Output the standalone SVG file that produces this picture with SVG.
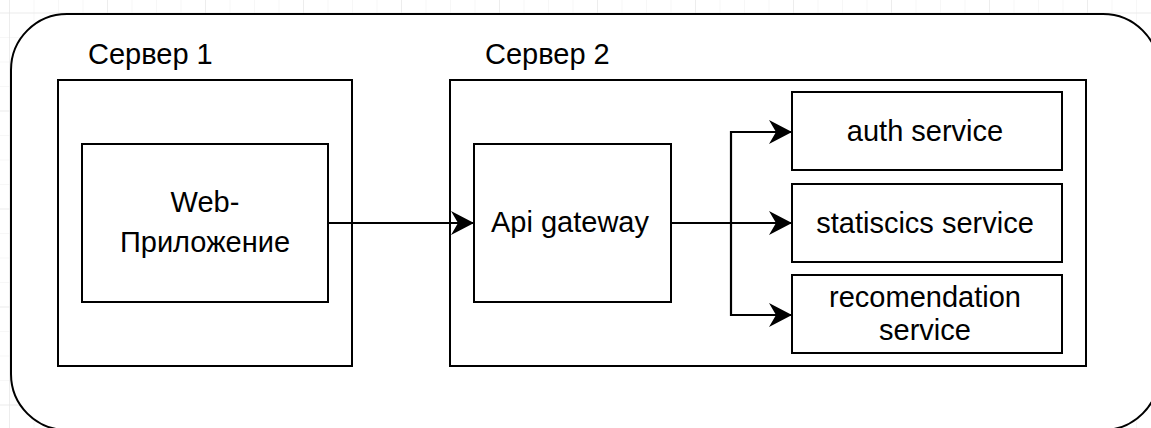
<svg xmlns="http://www.w3.org/2000/svg" width="1151" height="428" viewBox="0 0 1151 428">
  <defs>
    <!-- light drawing-board grid: minor cells plus heavier every 4th line -->
    <pattern id="gridMinor" x="9" y="12.5" width="24.5" height="24.5" patternUnits="userSpaceOnUse">
      <path d="M0,0 H24.5 M0,0 V24.5" fill="none" stroke="#f0f0f0" stroke-width="1"/>
    </pattern>
    <pattern id="gridMajor" x="9" y="12.5" width="98" height="98" patternUnits="userSpaceOnUse">
      <path d="M0,0 H98 M0,0 V98" fill="none" stroke="#e4e4e4" stroke-width="1"/>
    </pattern>
    <marker id="arrow" markerUnits="userSpaceOnUse" markerWidth="26" markerHeight="26" refX="23" refY="12" orient="auto" viewBox="0 0 26 26">
      <path d="M23,12 L0,0 L7,12 L0,24 Z" fill="#000"/>
    </marker>
    <style>
      .box { fill: #fff; stroke: #000; stroke-width: 2; }
      .frame { fill: #fff; stroke: #000; stroke-width: 2; }
      .lbl { font-family: "Liberation Sans", Arial, Helvetica, sans-serif; font-size: 29px; fill: #000; }
      .mid { text-anchor: middle; }
      .edge { fill: none; stroke: #000; stroke-width: 2.2; }
    </style>
  </defs>

  <rect width="1151" height="428" fill="#fff"/>
  <rect width="1151" height="428" fill="url(#gridMinor)"/>
  <rect width="1151" height="428" fill="url(#gridMajor)"/>

  <!-- outer rounded frame -->
  <rect id="frame" class="frame" x="11" y="14" width="1148" height="416" rx="56" ry="56"/>

  <g id="server1">
    <rect class="box" x="58" y="80" width="294" height="286"/>
    <text class="lbl" x="88" y="64">Сервер 1</text>
  </g>

  <g id="server2">
    <rect class="box" x="450" y="80" width="636" height="286"/>
    <text class="lbl" x="485" y="64">Сервер 2</text>
  </g>

  <g id="web-app">
    <rect class="box" x="82" y="144" width="246" height="158"/>
    <text class="lbl mid" x="205" y="212">Web-</text>
    <text class="lbl mid" x="205" y="252">Приложение</text>
  </g>

  <g id="api-gateway">
    <rect class="box" x="474" y="144" width="197" height="158"/>
    <text class="lbl mid" x="570" y="232">Api gateway</text>
  </g>

  <g id="auth-service">
    <rect class="box" x="792" y="92" width="270" height="78"/>
    <text class="lbl mid" x="925" y="141">auth service</text>
  </g>

  <g id="statistics-service">
    <rect class="box" x="792" y="184" width="270" height="78"/>
    <text class="lbl mid" x="925" y="233">statiscics service</text>
  </g>

  <g id="recommendation-service">
    <rect class="box" x="792" y="275" width="270" height="78"/>
    <text class="lbl mid" x="925" y="307">recomendation</text>
    <text class="lbl mid" x="925" y="340">service</text>
  </g>

  <g id="connectors">
    <path class="edge" d="M328,223 H474" marker-end="url(#arrow)"/>
    <path class="edge" d="M671,223 H792" marker-end="url(#arrow)"/>
    <path class="edge" d="M731,223 V132 H792" marker-end="url(#arrow)"/>
    <path class="edge" d="M731,223 V315 H792" marker-end="url(#arrow)"/>
  </g>
</svg>
